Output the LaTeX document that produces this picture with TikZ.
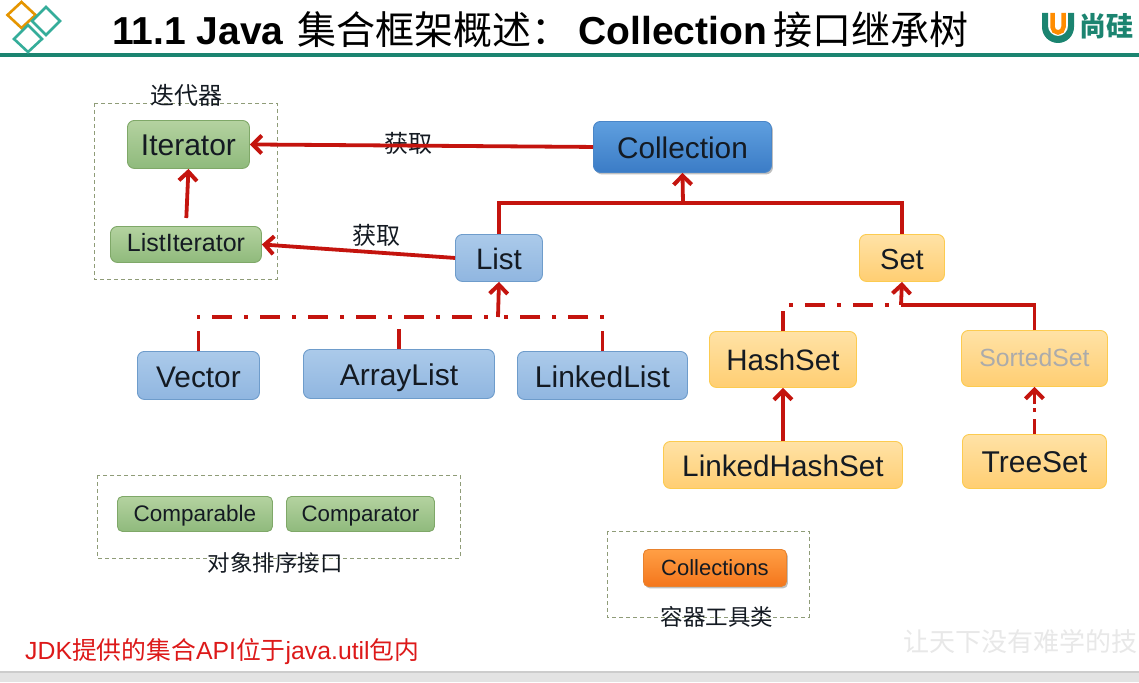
\documentclass[tikz,border=0pt]{standalone}
\usepackage{fontspec}
\setmainfont{Liberation Sans}
\newfontfamily\cjk{Noto Sans CJK SC}
\usetikzlibrary{arrows.meta,shadows,calc}
\definecolor{arrred}{HTML}{C4140E}
\definecolor{teal1}{HTML}{1B8470}
\definecolor{teal2}{HTML}{35AD9A}
\definecolor{dashgreen}{HTML}{8F9C78}
\definecolor{txt}{HTML}{141A22}
\definecolor{gT}{HTML}{B4D2A0}\definecolor{gB}{HTML}{8FBA7C}\definecolor{gD}{HTML}{7FA868}
\definecolor{bT}{HTML}{ABCAEA}\definecolor{bB}{HTML}{90B6E0}\definecolor{bD}{HTML}{6E9CCB}
\definecolor{cT}{HTML}{5F9FDF}\definecolor{cB}{HTML}{3B7CC6}\definecolor{cD}{HTML}{4A86C8}
\definecolor{oT}{HTML}{FFE2A6}\definecolor{oB}{HTML}{FFCE72}\definecolor{oD}{HTML}{FCCB50}
\definecolor{kT}{HTML}{FF9F45}\definecolor{kB}{HTML}{F4761C}\definecolor{kD}{HTML}{E8822E}
\tikzset{
  box/.style={draw,rounded corners=7pt,line width=.9pt,inner sep=0pt,align=center,text=txt},
  greenbox/.style={box,draw=gD,top color=gT,bottom color=gB},
  bluebox/.style={box,draw=bD,top color=bT,bottom color=bB},
  orangebox/.style={box,draw=oD,top color=oT,bottom color=oB},
  softshadow/.style={drop shadow={shadow xshift=1.5pt,shadow yshift=-2pt,fill=black,opacity=.25}},
  arr/.style={draw=arrred,line width=3.8pt,-{Straight Barb[length=9pt,width=18pt,line width=4pt]}},
  lin/.style={draw=arrred,line width=3.8pt},
  dline/.style={lin,dash pattern=on 20pt off 12pt on 4pt off 12pt},
  group/.style={draw=dashgreen,line width=.9pt,dash pattern=on 4pt off 3pt},
  lab/.style={text=txt,inner sep=0pt},
  diam/.style={line width=2.6pt,line join=miter},
}
\newcommand{\fs}[1]{\fontsize{#1}{#1}\selectfont}
\newcommand{\dn}[2]{\raisebox{-#1}[\height][\depth]{#2}}
\newcommand{\bx}[6]{% style,name,x1,y1,x2,y2
  \node[#1,minimum width=#5pt-#3pt,minimum height=#6pt-#4pt,anchor=north west] (#2) at (#3,#4)}
\begin{document}
\begin{tikzpicture}[x=1pt,y=-1pt]
\useasboundingbox (0,0) rectangle (1139,682);
\fill[white] (0,0) rectangle (1139,682);
\fill[black!11] (0,672) rectangle (1139,682);
\fill[black!20] (0,671) rectangle (1139,672.5);
% header
\fill[teal1] (0,53.5) rectangle (1139,57);
\draw[diam,draw=orange!70!yellow!90!black] (21.5,2) -- (35.5,15) -- (21.5,28) -- (7.5,15) -- cycle;
\draw[diam,draw=teal2] (46,7) -- (60,21) -- (46,35) -- (32,21) -- cycle;
\draw[diam,draw=teal2] (28,25) -- (42,39) -- (28,52) -- (14,39) -- cycle;
\node[anchor=west,inner sep=0pt,text=black,font=\fs{39}\bfseries] (title) at (112,30)
  {11.1 Java\kern3pt\ {\cjk\mdseries 集合框架概述：}\kern8pt Collection\kern7pt{\cjk\mdseries 接口继承树}};
% logo
\fill[teal1] (1042,13) -- (1048,13) -- (1048,26) arc[start angle=180,end angle=0,radius=10] -- (1068,13) -- (1074,13) -- (1074,27) arc[start angle=0,end angle=180,radius=16] -- cycle;
\draw[orange!90!yellow,line width=4.5pt] (1052.5,13) -- (1052.5,27) arc[start angle=180,end angle=0,radius=5.5] -- (1063.5,13);
\node[anchor=west,inner sep=0pt,text=teal1,font=\cjk\bfseries\fs{27}] (logotext) at (1079,26.5) {尚硅};
% groups
\draw[group] (94,103) rectangle (277,279);
\draw[group] (97,475) rectangle (460,558);
\draw[group] (607,531) rectangle (809,617);
% nodes
\bx{greenbox,font=\fs{30}}{iter}{127}{120}{249}{168} {\dn{1pt}{Iterator}};
\bx{greenbox,font=\fs{25}}{litr}{110}{226}{261}{262} {\dn{-1.5pt}{ListIterator}};
\bx{box,draw=cD,top color=cT,bottom color=cB,softshadow,font=\fs{29.8}}{coll}{593}{121}{771}{172} {\dn{1pt}{Collection}};
\bx{bluebox,font=\fs{29.5}}{list}{455}{234}{542}{281} {\dn{1pt}{List}};
\bx{orangebox,font=\fs{29}}{set}{859}{234}{944}{281} {\dn{2pt}{Set}};
\bx{bluebox,font=\fs{29.8}}{vec}{137}{351}{259}{399} {\dn{2pt}{Vector}};
\bx{bluebox,font=\fs{30}}{alist}{303}{349}{494}{398} {\dn{3.5pt}{ArrayList}};
\bx{bluebox,font=\fs{30}}{llist}{517}{351}{687}{399} {\dn{1pt}{LinkedList}};
\bx{orangebox,font=\fs{29.5}}{hset}{709}{331}{856}{387} {\dn{1pt}{HashSet}};
\bx{orangebox,text=black!33,font=\fs{24.8}}{sset}{961}{330}{1107}{386} {\dn{-1pt}{SortedSet}};
\bx{orangebox,font=\fs{29.7}}{lhset}{663}{441}{902}{488} {\dn{1pt}{LinkedHashSet}};
\bx{orangebox,font=\fs{30}}{tset}{962}{434}{1106}{488} {\dn{1pt}{TreeSet}};
\bx{greenbox,rounded corners=5pt,font=\fs{22.5}}{cmpb}{117}{496}{272}{531} {\dn{2pt}{Comparable}};
\bx{greenbox,rounded corners=5pt,font=\fs{22.3}}{cmpt}{286}{496}{434}{531} {\dn{2pt}{Comparator}};
\bx{box,rounded corners=5pt,draw=kD,top color=kT,bottom color=kB,softshadow,font=\fs{22}}{colls}{643}{549}{786}{586} {Collections};
% labels
\node[lab,font=\cjk\fs{24}] (l1) at (186,95) {迭代器};
\node[lab,font=\cjk\fs{24}] (l2) at (408,143) {获取};
\node[lab,font=\cjk\fs{24}] (l3) at (376,235) {获取};
\node[lab,font=\cjk\fs{22.5}] (l4) at (275,563) {对象排序接口};
\node[lab,font=\cjk\fs{22.5}] (l5) at (717,617) {容器工具类};
\node[anchor=west,inner sep=0pt,text=red!85!black!90,font=\fs{24.8}] (note) at (25,652) {JDK{\cjk 提供的集合}API{\cjk 位于}java.util{\cjk 包内}};
\node[anchor=west,inner sep=0pt,text=black!9,font=\cjk\fs{26}] (wm) at (903,642) {让天下没有难学的技};
% connectors
\draw[arr] (coll.west) -- (iter.east);
\draw[arr] (list.west) -- (litr.east);
\draw[arr,shorten <=8pt] (litr.north) -- (iter.south);
\coordinate (ctop) at (683,203);
\draw[lin,line join=miter] (list.north) |- (ctop) -| (set.north);
\draw[arr] (ctop) -- (coll.south);
\coordinate (ljoin) at (498,317);
\draw[dline] (vec.north) |- (ljoin);
\draw[dline] (llist.north) |- (ljoin);
\draw[dline] (alist.north) -- (alist.north |- ljoin);
\draw[arr] (ljoin) -- (list.south);
\coordinate (sjoin) at (901,305);
\draw[dline] (hset.north) |- (sjoin);
\draw[lin,line join=miter] (sset.north) |- (sjoin);
\draw[arr] (sjoin) -- (set.south);
\draw[arr] (lhset.north -| hset.south) -- (hset.south);
\draw[arr,dash pattern=on 15pt off 7pt on 4pt off 4pt] (tset.north) -- (sset.south);
\end{tikzpicture}
\end{document}
